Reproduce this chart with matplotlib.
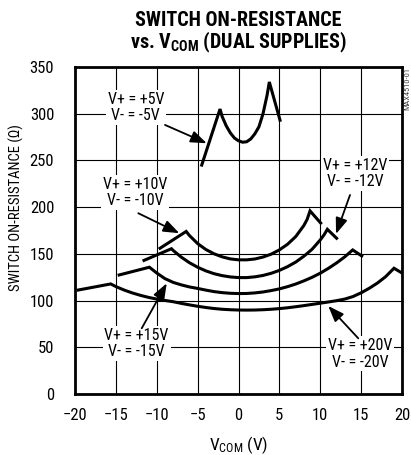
import numpy as np
import matplotlib.pyplot as plt
from matplotlib import font_manager

# pick a narrow sans if one is installed, else Liberation Sans
names = set(f.name for f in font_manager.fontManager.ttflist)
fam = 'Liberation Sans'
narrow = False
for cand in ['Liberation Sans Narrow', 'DejaVu Sans Condensed', 'Roboto Condensed', 'Arial Narrow']:
    if cand in names:
        fam = cand
        narrow = True
        break
k = 1.0 if narrow else 0.86   # shrink text a bit when only the wide face exists

plt.rcParams['font.family'] = [fam, 'DejaVu Sans']
plt.rcParams['mathtext.fontset'] = 'custom'
plt.rcParams['mathtext.rm'] = fam
plt.rcParams['mathtext.bf'] = fam + ':bold'

# on-resistance vs V_COM, one curve per supply pair
v5 = [-4.5, -2.26, -2, -1.5, -1, -0.5, 0, 0.5, 1, 1.5, 2, 2.5, 3, 3.5, 3.77, 5.08]
r5 = [245, 305, 297, 287, 279.5, 274, 271, 269.5, 270, 273, 278.5, 286, 300, 320, 334, 293]

v10 = [-9.6, -6.4, -6, -5, -4, -3, -2, -1, 0, 1, 2, 3, 4, 5, 6, 7, 8, 8.4, 8.75, 10.05]
r10 = [156, 174, 169.6, 161, 154.7, 150.1, 146.8, 144.6, 143.6, 143.6, 144.5, 146.6,
       149.7, 154.2, 160.3, 168.5, 180.4, 187, 196, 183]

v12 = [-11.56, -8.2, -8, -7, -6, -5, -4, -3, -2, -1, 0, 1, 2, 3, 4, 5, 6, 7, 8, 9, 10,
       10.5, 10.87, 12.0]
r12 = [143, 155.5, 153.7, 146.5, 140.5, 135.7, 131.8, 128.8, 126.7, 125.3, 124.6, 124.6,
       125.4, 126.9, 129.2, 132.3, 136.3, 141.2, 147.5, 154.9, 164.9, 170.8, 176.3, 166.7]

v15 = [-14.6, -10.9, -10, -9, -8, -7, -6, -5, -4, -3, -2, -1, 0, 1, 2, 3, 4, 5, 6, 7, 8,
       9, 10, 11, 12, 13, 13.97, 15.07]
r15 = [127.4, 135.7, 129.5, 123.5, 119.5, 116.8, 114.6, 113.0, 111.2, 109.6, 108.5, 107.8,
       107.5, 107.6, 108.2, 109.2, 110.7, 112.5, 114.9, 117.7, 121.1, 124.9, 129.3, 134.5,
       140.3, 146.8, 154.2, 147.8]

v20 = [-19.6, -15.63, -15, -14, -13, -12, -11, -10, -9, -8, -7, -6, -5, -4, -3, -2, -1, 0,
       1, 2, 3, 4, 5, 6, 7, 8, 9, 10, 11, 12, 13, 14, 15, 16, 17, 18, 19.02, 20]
r20 = [111.3, 117.8, 115, 111.3, 108.2, 105.6, 103.4, 101.6, 100.1, 98.8, 97.0, 95.4, 93.9,
       92.6, 91.5, 90.7, 90.2, 89.9, 89.8, 89.9, 90.2, 90.7, 91.4, 92.3, 93.4, 94.6, 95.9,
       97.2, 98.5, 99.9, 101.6, 104.3, 108.3, 113.2, 118.8, 125.6, 134.6, 129.5]

xticks = [-20, -15, -10, -5, 0, 5, 10, 15, 20]
yticks = [0, 50, 100, 150, 200, 250, 300, 350]

fig = plt.figure(figsize=(4.11, 4.55), dpi=100)
ax = fig.add_axes([75/411, 1-394/455, 327/411, 327/455])

for v, r in [(v5, r5), (v10, r10), (v12, r12), (v15, r15), (v20, r20)]:
    ax.plot(v, r, color='black', lw=2.2, solid_joinstyle='miter', zorder=3)

ax.set_xlim(-20, 20)
ax.set_ylim(0, 350)
ax.set_xticks(xticks)
ax.set_yticks(yticks)
ax.grid(True, color='black', lw=0.8)
ax.set_axisbelow(True)
ax.tick_params(length=0, labelsize=12*k)
ax.tick_params(axis='y', pad=15)
ax.tick_params(axis='x', pad=10)
for s in ax.spines.values():
    s.set_linewidth(2.0)

# labels with arrows
labels = [
    ("V+ = +5V\nV- = -5V", (-12.56, 306.5), (-8.99, 288), (-3.89, 268.4)),
    ("V+ = +10V\nV- = -10V", (-12.65, 215.5), (-12.26, 193.5), (-7.24, 172.1)),
    ("V+ = +12V\nV- = -12V", (14.25, 236), (13.64, 213), (11.93, 171.3)),
    ("V+ = +15V\nV- = -15V", (-12.46, 54), (-11.84, 70.3), (-8.78, 118.5)),
    ("V+ = +20V\nV- = -20V", (14.86, 43), (14.65, 59.6), (10.98, 94.2)),
]
for txt, pos, start, tip in labels:
    ax.text(pos[0], pos[1], txt, ha='center', va='center', fontsize=11.5*k, linespacing=1.12,
            bbox=dict(boxstyle='square,pad=0.12', fc='white', ec='none'), zorder=4)
    ax.annotate('', xy=tip, xytext=start,
                arrowprops=dict(arrowstyle='-|>,head_length=0.8,head_width=0.3',
                                color='black', lw=1.3, shrinkA=0, shrinkB=0,
                                mutation_scale=12),
                zorder=5)

fig.text(238.5/411, 1-26/455, 'SWITCH ON-RESISTANCE', ha='center', va='baseline',
         fontsize=14.5*k, fontweight='bold')
fig.text(238.5/411, 1-48/455, r'vs. $\mathbf{V_{COM}}$ (DUAL SUPPLIES)', ha='center',
         va='baseline', fontsize=14.5*k, fontweight='bold')
fig.text(16/411, 1-207.5/455, 'SWITCH ON-RESISTANCE (Ω)', rotation=90, ha='center',
         va='center', fontsize=10.5*k)
fig.text(238.5/411, 1-445/455, r'$\mathregular{V_{COM}}$ (V)', ha='center', va='center',
         fontsize=12.5*k)
fig.text(407/411, 1-67/455, 'MAX4510-01', rotation=90, ha='center', va='top',
         fontsize=6, color='#444444')

fig.savefig('out.png', dpi=100)
